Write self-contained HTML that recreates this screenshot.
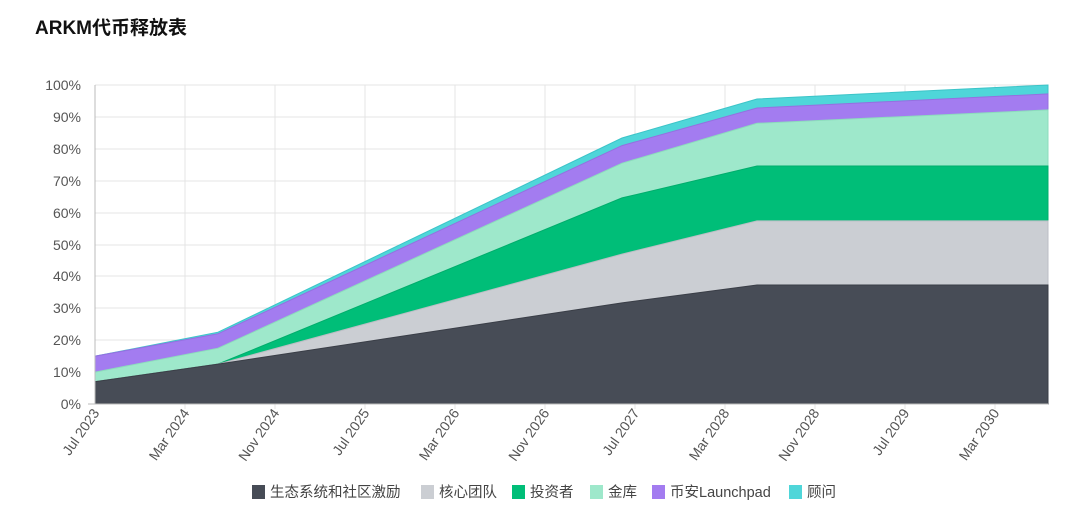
<!DOCTYPE html>
<html><head><meta charset="utf-8"><style>
body{margin:0;background:#fff;width:1080px;height:516px;overflow:hidden;font-family:"Liberation Sans","Noto Sans CJK SC",sans-serif;}
</style></head><body>
<svg width="1080" height="516" xmlns="http://www.w3.org/2000/svg" font-family="Liberation Sans, Noto Sans CJK SC, sans-serif">
<text x="35" y="34" font-size="19" font-weight="bold" fill="#111">ARKM代币释放表</text>
<g stroke="#e4e4e4" stroke-width="1">
<line x1="95" y1="85" x2="1048" y2="85"/><line x1="95" y1="117" x2="1048" y2="117"/><line x1="95" y1="149" x2="1048" y2="149"/><line x1="95" y1="181" x2="1048" y2="181"/><line x1="95" y1="213" x2="1048" y2="213"/><line x1="95" y1="245" x2="1048" y2="245"/><line x1="95" y1="276" x2="1048" y2="276"/><line x1="95" y1="308" x2="1048" y2="308"/><line x1="95" y1="340" x2="1048" y2="340"/><line x1="95" y1="372" x2="1048" y2="372"/>
<line x1="185" y1="85" x2="185" y2="409"/><line x1="275" y1="85" x2="275" y2="409"/><line x1="365" y1="85" x2="365" y2="409"/><line x1="455" y1="85" x2="455" y2="409"/><line x1="545" y1="85" x2="545" y2="409"/><line x1="635" y1="85" x2="635" y2="409"/><line x1="725" y1="85" x2="725" y2="409"/><line x1="815" y1="85" x2="815" y2="409"/><line x1="905" y1="85" x2="905" y2="409"/><line x1="995" y1="85" x2="995" y2="409"/>
</g>
<polygon fill="#4fd6d9" stroke="#3cc4c8" points="95,404 95,356.2 218,332.2 622,138 757,99 1048,85 1048,404"/>
<polygon fill="#a37cf0" stroke="#9470e0" points="95,404 95,356.2 218,333.8 622,145.6 757,108 1048,93.9 1048,404"/>
<polygon fill="#9ee8cb" stroke="#8cdcbc" points="95,404 95,372.1 218,348.2 622,163.2 757,123.3 1048,109.9 1048,404"/>
<polygon fill="#00be78" stroke="#00ad6c" points="95,404 95,381.7 218,364.1 622,197.9 757,166 1048,166 1048,404"/>
<polygon fill="#cbced3" stroke="#bbbec4" points="95,404 95,381.7 218,364.1 622,254.1 757,220.9 1048,220.9 1048,404"/>
<polygon fill="#474c56" stroke="#3a3e47" points="95,404 95,381.7 218,364.1 622,302.9 757,285 1048,285 1048,404"/>
<line x1="95" y1="85" x2="95" y2="404" stroke="#bbb"/>
<line x1="88" y1="404" x2="1048" y2="404" stroke="#bbb"/>
<g font-size="14" fill="#555" text-anchor="end">
<text x="81" y="90">100%</text><text x="81" y="122">90%</text><text x="81" y="154">80%</text><text x="81" y="186">70%</text><text x="81" y="218">60%</text><text x="81" y="250">50%</text><text x="81" y="281">40%</text><text x="81" y="313">30%</text><text x="81" y="345">20%</text><text x="81" y="377">10%</text><text x="81" y="409">0%</text>
</g>
<g font-size="14" fill="#555" text-anchor="end">
<text transform="translate(100,413) rotate(-55)">Jul 2023</text>
<text transform="translate(190,413) rotate(-55)">Mar 2024</text>
<text transform="translate(280,413) rotate(-55)">Nov 2024</text>
<text transform="translate(370,413) rotate(-55)">Jul 2025</text>
<text transform="translate(460,413) rotate(-55)">Mar 2026</text>
<text transform="translate(550,413) rotate(-55)">Nov 2026</text>
<text transform="translate(640,413) rotate(-55)">Jul 2027</text>
<text transform="translate(730,413) rotate(-55)">Mar 2028</text>
<text transform="translate(820,413) rotate(-55)">Nov 2028</text>
<text transform="translate(910,413) rotate(-55)">Jul 2029</text>
<text transform="translate(1000,413) rotate(-55)">Mar 2030</text>
</g>
<g font-size="14.5" fill="#444">
<rect x="252" y="485" width="13" height="14" fill="#474c56"/><text x="270" y="497">生态系统和社区激励</text>
<rect x="421" y="485" width="13" height="14" fill="#cbced3"/><text x="439" y="497">核心团队</text>
<rect x="512" y="485" width="13" height="14" fill="#00be78"/><text x="530" y="497">投资者</text>
<rect x="590" y="485" width="13" height="14" fill="#9ee8cb"/><text x="608" y="497">金库</text>
<rect x="652" y="485" width="13" height="14" fill="#a37cf0"/><text x="670" y="497">币安Launchpad</text>
<rect x="789" y="485" width="13" height="14" fill="#4fd6d9"/><text x="807" y="497">顾问</text>
</g>
</svg>
</body></html>
